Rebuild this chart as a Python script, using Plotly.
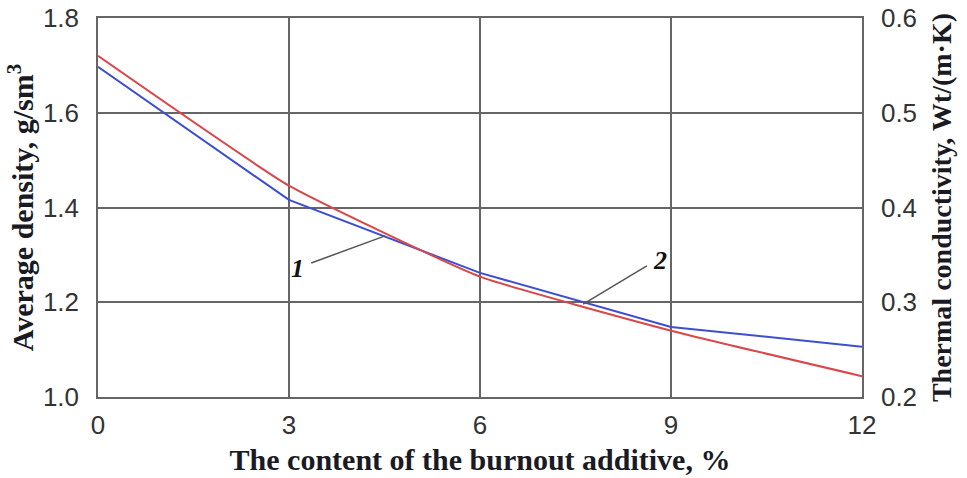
import plotly.graph_objects as go

additive = [0, 3, 6, 9, 12]
density = [1.697, 1.416, 1.262, 1.148, 1.106]
conductivity = [0.560, 0.423, 0.327, 0.270, 0.222]
x_ticks = [0, 3, 6, 9, 12]
y1_ticks = [1.0, 1.2, 1.4, 1.6, 1.8]
y2_ticks = [0.2, 0.3, 0.4, 0.5, 0.6]

fig = go.Figure()
fig.add_trace(go.Scatter(x=additive, y=density, mode="lines",
                         line=dict(color="#3d4fd0", width=2), yaxis="y", showlegend=False))
fig.add_trace(go.Scatter(x=additive, y=conductivity, mode="lines",
                         line=dict(color="#d8474a", width=2, shape="spline", smoothing=0.4),
                         yaxis="y2", showlegend=False))

tickfont = dict(family="Liberation Sans, Arial", size=26, color="#333333")
titlefont = dict(family="Liberation Serif, Times New Roman", size=30, color="#1a1a24")

fig.update_layout(
    width=967, height=478,
    margin=dict(l=98, r=105, t=18, b=81),
    plot_bgcolor="white", paper_bgcolor="white",
    xaxis=dict(range=[0, 12], tickvals=x_ticks, ticktext=[str(v) for v in x_ticks],
               showgrid=True, gridcolor="#666666", gridwidth=1.5,
               showline=True, linecolor="#666666", linewidth=1.5, mirror=True,
               ticks="outside", ticklen=4, tickcolor="rgba(0,0,0,0)", tickfont=tickfont, zeroline=False,
               automargin=False,
               title=dict(text="<b>The content of the burnout additive, %</b>", font=titlefont, standoff=10)),
    yaxis=dict(range=[1.0, 1.8], tickvals=y1_ticks, ticktext=[f"{v:.1f}" for v in y1_ticks],
               showgrid=True, gridcolor="#666666", gridwidth=1.5,
               showline=True, linecolor="#666666", linewidth=1.5,
               ticks="outside", ticklen=12, tickcolor="rgba(0,0,0,0)", tickfont=tickfont, zeroline=False,
               automargin=False,
               title=dict(text="<b>Average density, g/sm<sup>3</sup></b>", font=titlefont, standoff=0)),
    yaxis2=dict(range=[0.2, 0.6], tickvals=y2_ticks, ticktext=[f"{v:.1f}" for v in y2_ticks],
                overlaying="y", side="right", showgrid=False,
                showline=True, linecolor="#666666", linewidth=1.5,
                ticks="outside", ticklen=12, tickcolor="rgba(0,0,0,0)", tickfont=tickfont, zeroline=False,
                automargin=False,
                title=dict(text="<b>Thermal conductivity, Wt/(m·K)</b>",
                           font=dict(family="Liberation Serif, Times New Roman", size=28, color="#1a1a24"),
                           standoff=15)),
)

# leader lines for curve labels
fig.add_shape(type="line", xref="x", yref="y", x0=3.35, y0=1.283, x1=4.51, y1=1.340,
              line=dict(color="#555555", width=1.5))
fig.add_shape(type="line", xref="x", yref="y", x0=8.62, y0=1.277, x1=7.62, y1=1.196,
              line=dict(color="#555555", width=1.5))
fig.add_annotation(x=3.14, y=1.272, xref="x", yref="y", text="<b><i>1</i></b>", showarrow=False,
                   font=dict(family="Liberation Serif, Times New Roman", size=26, color="#111111"))
fig.add_annotation(x=8.83, y=1.289, xref="x", yref="y", text="<b><i>2</i></b>", showarrow=False,
                   font=dict(family="Liberation Serif, Times New Roman", size=26, color="#111111"))

fig.write_html("out.html", config={"displayModeBar": False},
               post_script="document.body.style.margin='0';")
